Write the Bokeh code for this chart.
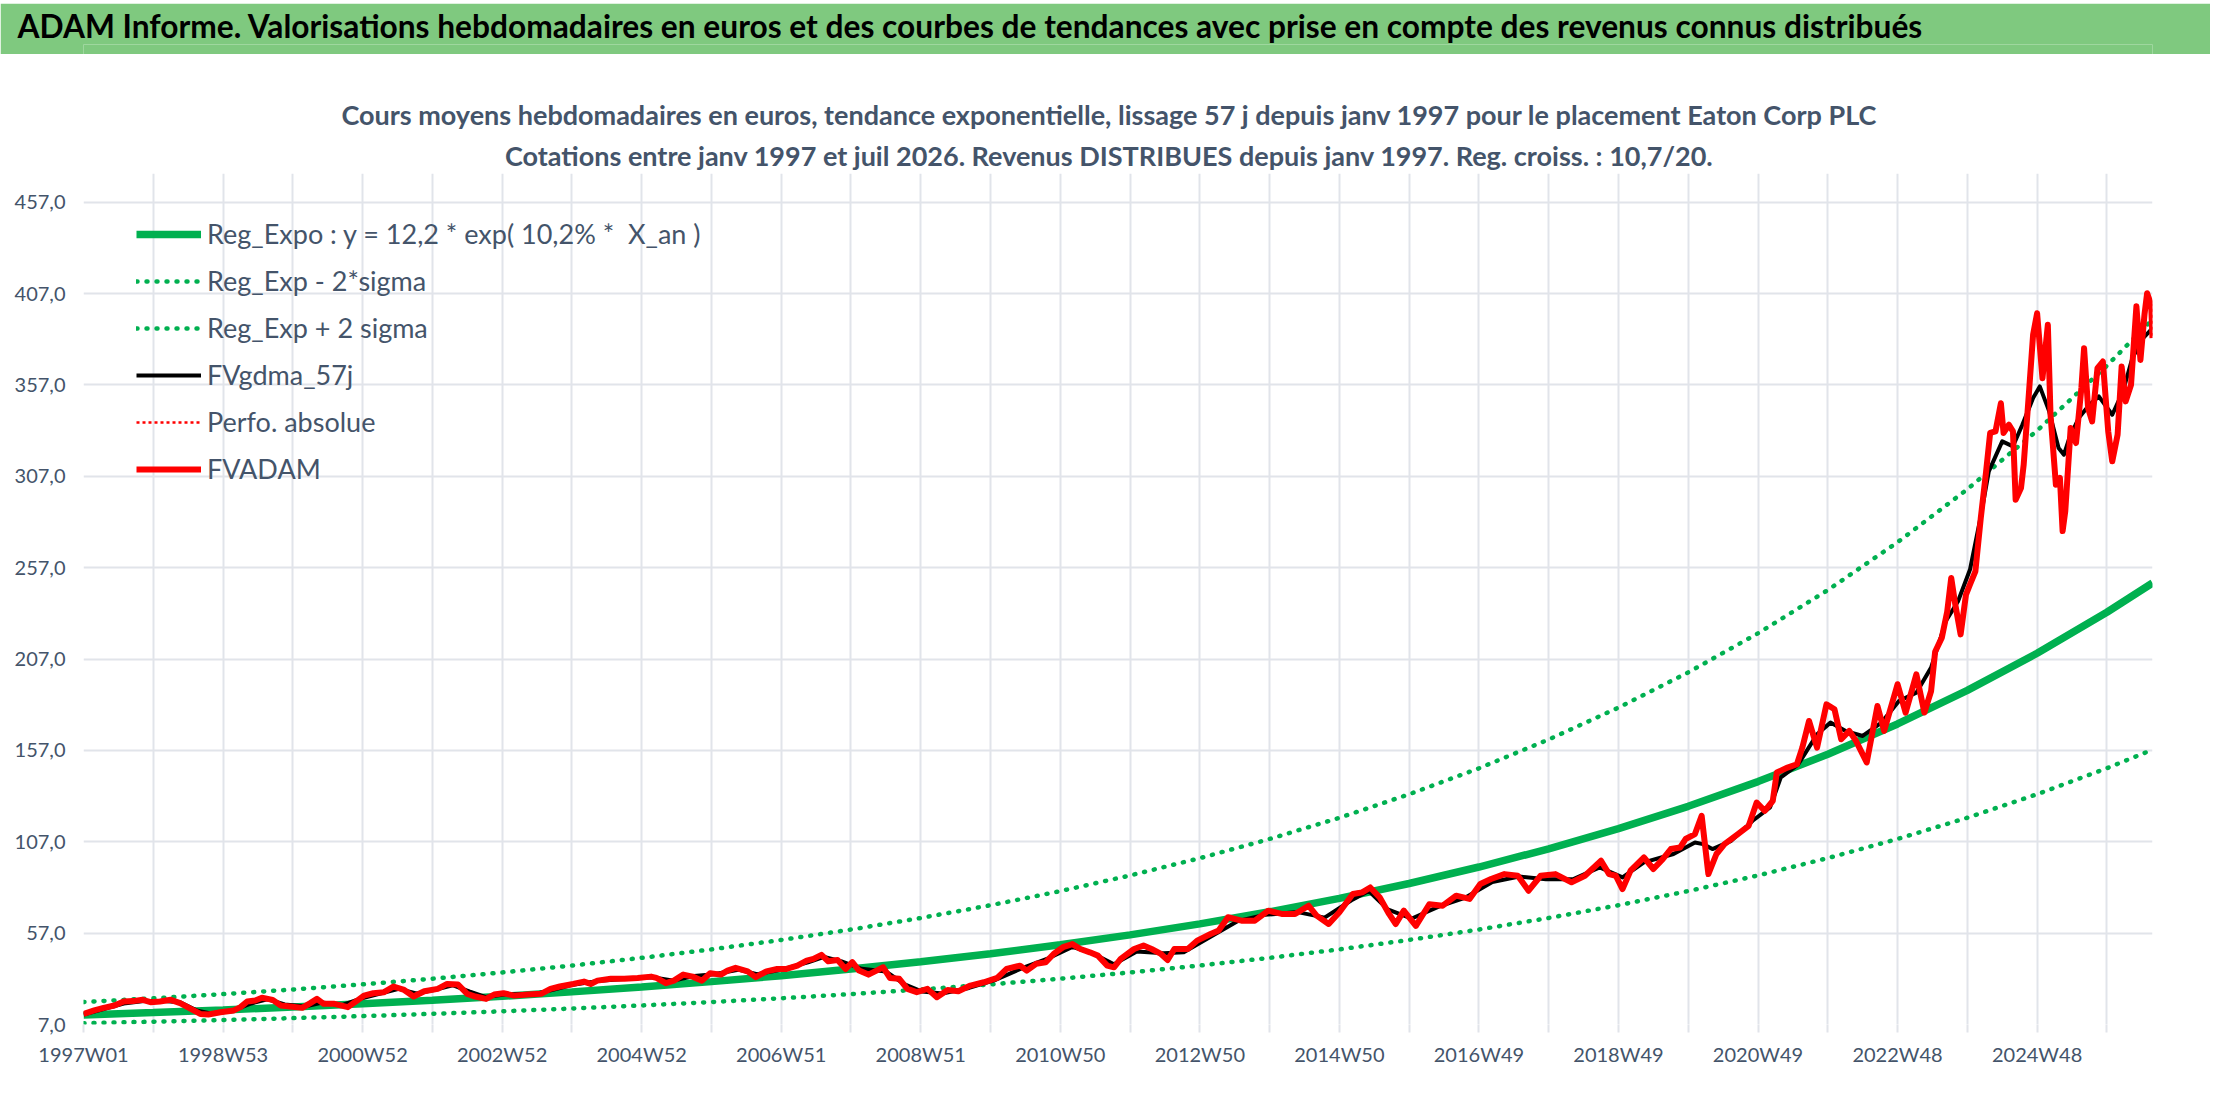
from bokeh.plotting import figure
from bokeh.layouts import column
from bokeh.models import Range1d, FixedTicker, Label, Legend, LegendItem
from bokeh.embed import file_html
from bokeh.resources import INLINE

TITLE = "ADAM Informe. Valorisations hebdomadaires en euros et des courbes de tendances avec prise en compte des revenus connus distribués"
SUB1 = "Cours moyens hebdomadaires en euros, tendance exponentielle, lissage 57 j depuis janv 1997 pour le placement Eaton Corp PLC"
SUB2 = "Cotations entre janv 1997 et juil 2026. Revenus DISTRIBUES depuis janv 1997. Reg. croiss. : 10,7/20."

SERIES_NAMES = ["Reg_Expo : y = 12,2 * exp( 10,2% *  X_an )", "Reg_Exp - 2*sigma",
                "Reg_Exp + 2 sigma", "FVgdma_57j", "Perfo. absolue", "FVADAM"]

# week index since 1997W01
X_TICKS = [0, 104, 208, 312, 416, 520, 624, 728, 832, 936, 1040, 1144, 1248, 1352, 1456]
X_TICK_LABELS = ["1997W01", "1998W53", "2000W52", "2002W52", "2004W52", "2006W51", "2008W51",
                 "2010W50", "2012W50", "2014W50", "2016W49", "2018W49", "2020W49", "2022W48", "2024W48"]
Y_TICKS = [7, 57, 107, 157, 207, 257, 307, 357, 407, 457]
Y_TICK_LABELS = ["7,0", "57,0", "107,0", "157,0", "207,0", "257,0", "307,0", "357,0", "407,0", "457,0"]

FVADAM_WEEKS = [0, 8, 15, 23, 30, 37, 44, 50, 57, 65, 72, 80, 87, 93, 102, 112, 117, 122, 128, 133, 141, 147, 154,
                163, 169, 174, 179, 187, 197, 204, 209, 216, 224, 231, 239, 246, 254, 264, 271, 279, 286, 292, 300,
                306, 313, 321, 331, 341, 348, 355, 365, 373, 378, 383, 393, 403, 413, 423, 427, 434, 440, 447, 454,
                461, 467, 475, 480, 486, 495, 501, 509, 517, 524, 532, 539, 544, 550, 555, 562, 568, 573, 578, 585,
                591, 596, 601, 608, 614, 621, 629, 636, 644, 652, 661, 671, 681, 688, 698, 703, 710, 717, 723, 730,
                737, 743, 750, 756, 763, 768, 773, 783, 790, 796, 803, 808, 813, 823, 830, 840, 846, 853, 863, 873,
                883, 893, 903, 913, 919, 928, 936, 946, 953, 959, 966, 973, 978, 984, 993, 1003, 1013, 1023, 1033,
                1041, 1049, 1059, 1069, 1077, 1086, 1097, 1109, 1119, 1131, 1137, 1142, 1147, 1153, 1163, 1170,
                1177, 1183, 1190, 1194, 1201, 1206, 1211, 1217, 1223, 1233, 1241, 1247, 1253, 1259, 1262, 1270,
                1277, 1281, 1286, 1292, 1299, 1305, 1310, 1316, 1321, 1329, 1337, 1342, 1352, 1358, 1366, 1372,
                1377, 1380, 1385, 1389, 1392, 1395, 1399, 1403, 1406, 1410, 1414, 1418, 1421, 1425, 1429, 1431,
                1435, 1438, 1440, 1444, 1446, 1450, 1453, 1456, 1460, 1464, 1466, 1470, 1473, 1475, 1477, 1481,
                1485, 1489, 1491, 1494, 1497, 1501, 1505, 1509, 1512, 1516, 1519, 1522, 1526, 1530, 1533, 1536,
                1538, 1541, 1542]
FVADAM = [12.8, 14.7, 16.1, 17.4, 19.6, 19.8, 20.5, 19.2, 19.6, 20.5, 18.7, 15.6, 12.8, 12.5, 13.7, 14.7, 16.5, 19.6,
          20.1, 21.6, 20.5, 17.4, 16.8, 16.1, 18.7, 21.0, 18.3, 18.3, 16.5, 20.1, 22.8, 24.1, 24.7, 27.8, 25.9, 22.3,
          25.2, 26.5, 29.2, 28.9, 23.8, 22.3, 21.0, 23.4, 24.1, 22.8, 23.4, 23.8, 26.5, 27.8, 29.2, 30.5, 29.2, 31.0,
          32.0, 32.0, 32.5, 33.2, 32.5, 29.6, 31.0, 34.3, 33.2, 31.0, 35.0, 34.3, 36.5, 38.0, 36.1, 32.9, 36.1, 37.4,
          37.4, 39.2, 42.0, 42.9, 45.1, 41.6, 42.3, 37.4, 41.1, 36.5, 34.3, 36.5, 38.3, 32.5, 32.0, 26.5, 24.7, 26.5,
          21.9, 25.9, 25.2, 28.3, 30.1, 32.5, 37.4, 39.2, 36.5, 40.2, 41.0, 45.6, 49.3, 51.0, 48.3, 46.5, 44.7, 39.2,
          38.3, 42.9, 48.3, 50.2, 48.3, 45.6, 42.3, 48.3, 48.3, 52.9, 56.5, 58.4, 65.7, 63.8, 63.8, 69.3, 67.5, 67.5,
          72.0, 66.6, 62.0, 68.4, 78.4, 79.3, 82.0, 76.6, 67.5, 62.0, 69.3, 61.0, 72.8, 72.0, 77.5, 75.7, 83.9, 86.6,
          89.3, 88.4, 80.2, 88.4, 89.3, 84.8, 88.4, 96.6, 89.3, 88.4, 81.1, 91.2, 98.4, 92.1, 97.5, 103.0, 103.9,
          108.5, 111.2, 121.2, 89.3, 100.3, 105.7, 111.2, 115.7, 128.5, 123.9, 129.4, 144.9, 147.6, 149.4, 158.5,
          173.1, 158.5, 182.2, 179.5, 163.1, 167.7, 162.2, 150.4, 181.3, 167.7, 193.2, 177.7, 198.6, 177.7, 189.5,
          211.0, 218.7, 233.0, 251.4, 236.9, 220.5, 242.3, 247.8, 255.0, 284.0, 309.7, 330.7, 331.6, 347.0, 330.7,
          335.2, 331.6, 294.2, 300.6, 313.4, 353.5, 384.4, 396.2, 360.7, 389.9, 340.7, 302.4, 306.1, 277.0, 288.0,
          333.4, 325.2, 355.3, 377.1, 344.3, 337.0, 366.2, 369.8, 331.6, 315.2, 329.8, 367.1, 348.0, 357.1, 400.0,
          370.7, 395.3, 407.2, 400.8, 382.6]

FVGDMA_WEEKS = [0, 15, 30, 45, 60, 72, 85, 95, 110, 125, 137, 150, 165, 178, 192, 206, 222, 235, 248, 262, 275, 288,
                300, 315, 335, 350, 365, 385, 405, 425, 440, 455, 470, 488, 502, 520, 540, 552, 565, 580, 598, 612,
                625, 640, 660, 680, 700, 720, 737, 752, 768, 785, 805, 820, 840, 860, 880, 905, 925, 945, 958, 972,
                990, 1010, 1030, 1050, 1070, 1090, 1110, 1130, 1147, 1163, 1185, 1201, 1207, 1214, 1228, 1244, 1257,
                1265, 1278, 1292, 1302, 1313, 1326, 1340, 1353, 1366, 1377, 1388, 1397, 1406, 1414, 1420, 1430, 1438,
                1445, 1453, 1458, 1465, 1472, 1476, 1480, 1487, 1495, 1502, 1512, 1520, 1527, 1535, 1541]
FVGDMA = [12.5, 15.5, 18.5, 19.8, 19.8, 19.2, 14.5, 13.0, 14.2, 18.5, 20.8, 18.0, 16.8, 19.0, 17.5, 21.0, 24.0, 26.5,
          24.0, 26.0, 28.5, 25.0, 22.0, 23.5, 23.5, 26.0, 28.8, 31.0, 32.0, 32.8, 31.0, 33.5, 34.5, 37.0, 34.5, 37.0,
          41.0, 44.0, 41.5, 37.5, 36.0, 29.0, 25.0, 24.0, 27.0, 31.5, 38.0, 43.5, 49.5, 46.0, 40.0, 47.0, 46.0, 46.5,
          55.0, 63.5, 67.0, 68.5, 65.5, 75.0, 80.0, 70.0, 65.0, 71.5, 76.5, 85.0, 88.0, 86.5, 86.5, 93.0, 87.5, 95.7,
          100.3, 106.6, 105.7, 103.0, 107.5, 118.5, 125.8, 142.2, 149.4, 165.8, 172.2, 167.7, 164.9, 172.2, 184.0,
          188.6, 202.3, 227.8, 238.5, 256.0, 285.0, 309.7, 326.1, 323.4, 335.2, 349.8, 356.2, 342.5, 322.5, 318.8,
          327.9, 338.9, 346.2, 350.7, 340.7, 353.5, 371.7, 382.6, 387.2]

TREND_WEEKS = [0, 52, 104, 156, 208, 260, 312, 364, 416, 468, 520, 572, 624, 676, 728, 780, 832, 884, 936, 988,
               1040, 1092, 1144, 1196, 1248, 1300, 1352, 1404, 1456, 1508, 1542]
REG_EXPO = [12.20, 13.51, 14.95, 16.55, 18.32, 20.28, 22.45, 24.85, 27.51, 30.46, 33.72, 37.32, 41.32, 45.74, 50.63,
            56.05, 62.05, 68.68, 76.03, 84.17, 93.18, 103.15, 114.18, 126.40, 139.92, 154.90, 171.47, 189.82, 210.13,
            232.61, 248.60]
REG_MINUS = [7.72, 8.55, 9.46, 10.48, 11.60, 12.84, 14.21, 15.73, 17.42, 19.28, 21.34, 23.63, 26.15, 28.95, 32.05,
             35.48, 39.28, 43.48, 48.13, 53.28, 58.98, 65.29, 72.28, 80.01, 88.57, 98.05, 108.54, 120.16, 133.01,
             147.24, 157.40]
REG_PLUS = [19.28, 21.34, 23.62, 26.15, 28.95, 32.04, 35.47, 39.27, 43.47, 48.12, 53.27, 58.97, 65.28, 72.26, 80.00,
            88.56, 98.03, 108.52, 120.13, 132.99, 147.22, 162.97, 180.41, 199.71, 221.08, 244.74, 270.92, 299.91,
            332.00, 367.52, 392.80]

GREEN = "#00B050"
TXT = "#44546A"
GRID = "#E1E4EA"
FONT = "Lato"
W = 2210
BL, BR = 83, W - 2152   # common left / right borders (plot frame 83..2152)


def strip(height, color, title=None):
    f = figure(width=W, height=height, x_range=Range1d(BL, 2152), y_range=Range1d(0, height),
               output_backend="svg", toolbar_location=None, x_axis_location=None, y_axis_location=None,
               title=title, min_border_left=BL, min_border_right=BR, min_border_top=0, min_border_bottom=0,
               background_fill_color=color, border_fill_color=color)
    f.outline_line_color = None
    f.grid.visible = False
    return f


# ---------- header band with title ----------
topline = strip(3, "#8C8C8C")
band = strip(51, "#7FC97F", title=TITLE)
band.min_border_top = 41
band.title.text_font = FONT
band.title.text_font_style = "bold"
band.title.text_font_size = "31.7px"
band.title.text_color = "black"
band.title.align = "left"
band.title.offset = 18 - BL - 1
band.title.standoff = 0
band.title.vertical_align = "bottom"

gap = strip(7, "white")
rule = strip(2, "#DADDE2")

# ---------- subtitles ----------
subs = strip(110, "white")   # covers page rows 63..173
subs.add_layout(Label(x=1109, y=173 - 125 + 11, text=SUB1, text_font=FONT, text_font_style="bold",
                      text_font_size="27px", text_color=TXT, text_align="center", text_baseline="alphabetic"))
subs.add_layout(Label(x=1109, y=173 - 167 + 12, text=SUB2, text_font=FONT, text_font_style="bold",
                      text_font_size="27px", text_color=TXT, text_align="center", text_baseline="alphabetic"))

# ---------- main chart ----------
p = figure(width=W, height=923, x_range=Range1d(0, 1542), y_range=Range1d(7, 472.7),
           output_backend="svg", toolbar_location=None,
           min_border_left=BL, min_border_right=BR, min_border_top=0, min_border_bottom=72,
           background_fill_color="white", border_fill_color="white")
p.outline_line_color = None

grid_ticks = list(range(0, 1509, 52))
p.xaxis.ticker = FixedTicker(ticks=grid_ticks)
p.xaxis.major_label_overrides = {t: (X_TICK_LABELS[X_TICKS.index(t)] if t in X_TICKS else "") for t in grid_ticks}
p.xaxis.axis_line_color = None
p.xaxis.major_tick_line_color = GRID
p.xaxis.major_tick_line_width = 2
p.xaxis.major_tick_out = 8
p.xaxis.major_tick_in = 0
p.xaxis.minor_tick_line_color = None
p.xaxis.major_label_standoff = 9
p.xaxis.major_label_text_font = FONT
p.xaxis.major_label_text_font_size = "20px"
p.xaxis.major_label_text_color = TXT

p.yaxis.ticker = FixedTicker(ticks=Y_TICKS)
p.yaxis.major_label_overrides = {t: l for t, l in zip(Y_TICKS, Y_TICK_LABELS)}
p.yaxis.axis_line_color = None
p.yaxis.major_tick_line_color = None
p.yaxis.minor_tick_line_color = None
p.yaxis.major_tick_out = 0
p.yaxis.major_tick_in = 0
p.yaxis.major_label_standoff = 18
p.yaxis.major_label_text_font = FONT
p.yaxis.major_label_text_font_size = "20px"
p.yaxis.major_label_text_color = TXT

p.xgrid.grid_line_color = GRID
p.xgrid.grid_line_width = 2
p.ygrid.grid_line_color = GRID
p.ygrid.grid_line_width = 2

r_exp = p.line(TREND_WEEKS, REG_EXPO, line_color=GREEN, line_width=7.5)
r_minus = p.line(TREND_WEEKS, REG_MINUS, line_color=GREEN, line_width=4.5, line_dash="1 9", line_cap="round")
r_plus = p.line(TREND_WEEKS, REG_PLUS, line_color=GREEN, line_width=4.5, line_dash="1 9", line_cap="round")
r_ma = p.line(FVGDMA_WEEKS, FVGDMA, line_color="black", line_width=4, line_join="round")
r_perf = p.line(FVADAM_WEEKS, FVADAM, line_color="#FF0000", line_width=2.5, line_dash="3 3")
r_red = p.line(FVADAM_WEEKS, FVADAM, line_color="#FF0000", line_width=6, line_join="round")

legend = Legend(items=[LegendItem(label=n, renderers=[r]) for n, r in
                       zip(SERIES_NAMES, [r_exp, r_minus, r_plus, r_ma, r_perf, r_red])],
                location=(53, 539), glyph_width=65, glyph_height=32, label_height=32, spacing=14,
                padding=0, margin=0, label_standoff=6, background_fill_alpha=0, border_line_alpha=0,
                label_text_font=FONT, label_text_font_size="27px", label_text_color=TXT)
p.add_layout(legend)

# ---------- footer line ----------
foot = strip(4, "#A6A6A6")

layout = column(topline, band, gap, rule, subs, p, foot, spacing=0)
open("out.html", "w").write(file_html(layout, INLINE))
